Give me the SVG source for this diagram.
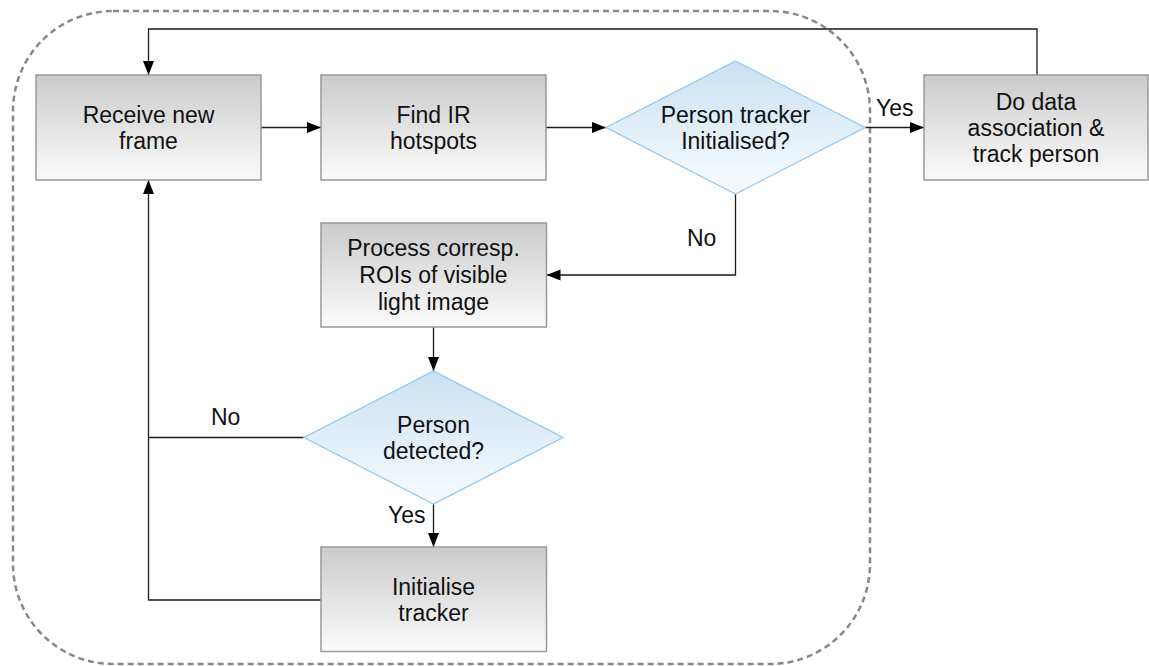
<svg xmlns="http://www.w3.org/2000/svg" width="1149" height="666" viewBox="0 0 1149 666">
  <defs>
    <linearGradient id="gBox" x1="0" y1="0" x2="0" y2="1">
      <stop offset="0" stop-color="#cbcbcb"/>
      <stop offset="1" stop-color="#fbfbfb"/>
    </linearGradient>
    <linearGradient id="gDia" x1="0" y1="0" x2="0" y2="1">
      <stop offset="0" stop-color="#c9e1f2"/>
      <stop offset="1" stop-color="#f8fbfe"/>
    </linearGradient>
    <marker id="arr" markerWidth="15" markerHeight="12" refX="14" refY="5.5" orient="auto" markerUnits="userSpaceOnUse">
      <path d="M0,0 L14,5.5 L0,11 z" fill="#000"/>
    </marker>
    <style>
      .box { fill: url(#gBox); stroke: #999; stroke-width: 1.5; }
      .dia { fill: url(#gDia); stroke: #8fcaf2; stroke-width: 1.3; }
      .t { font-family: "Liberation Sans", Arial, sans-serif; font-size: 23px; fill: #111; text-anchor: middle; }
      .lbl { font-family: "Liberation Sans", Arial, sans-serif; font-size: 23px; fill: #111; }
      .c { fill: none; stroke: #1a1a1a; stroke-width: 1.3; }
      .ca { fill: none; stroke: #1a1a1a; stroke-width: 1.3; marker-end: url(#arr); }
      .frame { fill: none; stroke: #888; stroke-width: 2.5; stroke-dasharray: 6 4; }
    </style>
  </defs>
  <rect width="1149" height="666" fill="#fff"/>
  <rect class="frame" x="13" y="11" width="857" height="653" rx="100" ry="100"/>

  <g id="connectors">
    <path class="ca" d="M261,127.5 H321"/>
    <path class="ca" d="M546,127.5 H606"/>
    <path class="ca" d="M865,127.5 H924"/>
    <path class="ca" d="M1037,75 V29 H148.5 V75"/>
    <path class="ca" d="M735.5,194 V275 H546.5"/>
    <path class="ca" d="M433.5,327 V371"/>
    <path class="c" d="M304,437.5 H148.5"/>
    <path class="ca" d="M321,600 H148.5 V180"/>
    <path class="ca" d="M433.5,504 V547"/>
    <text class="lbl" x="876" y="116">Yes</text>
    <text class="lbl" x="687" y="246">No</text>
    <text class="lbl" x="211" y="425">No</text>
    <text class="lbl" x="388" y="523">Yes</text>
  </g>

  <g id="receive">
    <rect class="box" x="36" y="75" width="225" height="105"/>
    <text class="t" x="148.5" y="123">Receive new</text>
    <text class="t" x="148.5" y="148.5">frame</text>
  </g>
  <g id="find">
    <rect class="box" x="321" y="75" width="225" height="105"/>
    <text class="t" x="433.5" y="123">Find IR</text>
    <text class="t" x="433.5" y="148.5">hotspots</text>
  </g>
  <g id="decision1">
    <polygon class="dia" points="735.5,61 865,127.5 735.5,194 606,127.5"/>
    <text class="t" x="735.5" y="122.5">Person tracker</text>
    <text class="t" x="735.5" y="148.5">Initialised?</text>
  </g>
  <g id="track">
    <rect class="box" x="924" y="75" width="224" height="105"/>
    <text class="t" x="1036" y="110">Do data</text>
    <text class="t" x="1036" y="136">association &amp;</text>
    <text class="t" x="1036" y="162">track person</text>
  </g>
  <g id="process">
    <rect class="box" x="321" y="223" width="225.5" height="104"/>
    <text class="t" x="433.5" y="256">Process corresp.</text>
    <text class="t" x="433.5" y="283">ROIs of visible</text>
    <text class="t" x="433.5" y="310">light image</text>
  </g>
  <g id="decision2">
    <polygon class="dia" points="433.5,371 563,437.5 433.5,504 304,437.5"/>
    <text class="t" x="433.5" y="433">Person</text>
    <text class="t" x="433.5" y="458.5">detected?</text>
  </g>
  <g id="init">
    <rect class="box" x="321" y="547" width="225.5" height="104.5"/>
    <text class="t" x="433.5" y="595">Initialise</text>
    <text class="t" x="433.5" y="621">tracker</text>
  </g>
</svg>
